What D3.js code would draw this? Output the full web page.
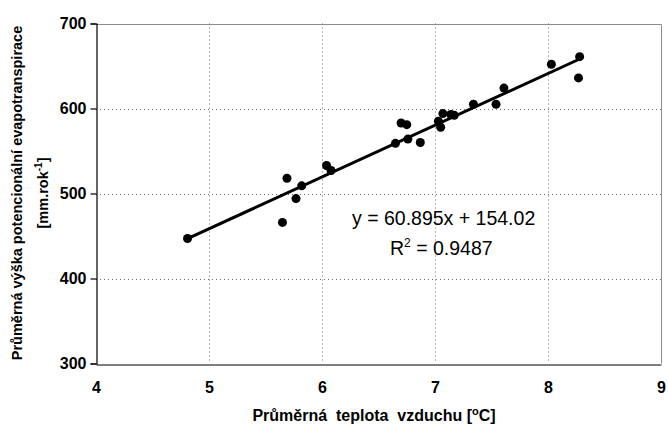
<!DOCTYPE html>
<html>
<head>
<meta charset="utf-8">
<script src="https://cdn.jsdelivr.net/npm/d3@7"></script>
<style>
  html, body { margin: 0; padding: 0; background: #fff; }
  svg { display: block; font-family: "Liberation Sans", Arial, sans-serif; }
</style>
</head>
<body>
<svg id="chart" width="668" height="429"></svg>
<script>
// Mean air temperature [°C] of each station
const temperature = [4.81, 5.65, 5.69, 5.77, 5.82, 6.04, 6.08, 6.65, 6.70, 6.75,
                     6.76, 6.87, 7.03, 7.05, 7.07, 7.14, 7.17, 7.34, 7.54, 7.61,
                     8.03, 8.28, 8.27];
// Mean potential evapotranspiration [mm/year] of each station
const evapotranspiration = [447, 466, 518, 494, 509, 533, 527, 559, 583, 581,
                            564, 560, 585, 578, 594, 593, 592, 605, 605, 624,
                            652, 661, 636];
// Linear trend y = a·x + b and its coefficient of determination
const trendSlope = 60.895;
const trendIntercept = 154.02;
const rSquared = 0.9487;
// Axis ticks
const xTicks = [4, 5, 6, 7, 8, 9];
const yTicks = [300, 400, 500, 600, 700];

const svg = d3.select("#chart");
const margin = { left: 96, right: 7, top: 23.5, bottom: 65.5 };
const W = 668, H = 429;

const x = d3.scaleLinear().domain([4, 9]).range([margin.left, W - margin.right]);
const y = d3.scaleLinear().domain([300, 700]).range([H - margin.bottom, margin.top]);

// dotted grid
const grid = svg.append("g");
grid.selectAll("line.v").data(xTicks.slice(1, -1)).join("line")
  .attr("x1", d => Math.round(x(d)) + 0.5).attr("x2", d => Math.round(x(d)) + 0.5)
  .attr("y1", y(700)).attr("y2", y(300))
  .attr("stroke", "#6e6e6e").attr("stroke-width", 1).attr("stroke-dasharray", "1,3");
grid.selectAll("line.h").data(yTicks.slice(1, -1)).join("line")
  .attr("y1", d => Math.round(y(d)) + 0.5).attr("y2", d => Math.round(y(d)) + 0.5)
  .attr("x1", x(4)).attr("x2", x(9))
  .attr("stroke", "#6e6e6e").attr("stroke-width", 1).attr("stroke-dasharray", "1,3");

// plot frame (top and right)
svg.append("path")
  .attr("d", `M${x(4)},${Math.round(y(700)) + 0.5}H${Math.round(x(9)) + 0.5}V${y(300)}`)
  .attr("fill", "none").attr("stroke", "#8c8c8c").attr("stroke-width", 1);

// axes
const tickFont = g => g.selectAll("text").attr("font-size", 16).attr("font-weight", "bold")
  .attr("fill", "#000").attr("font-family", "Liberation Sans, Arial, sans-serif");
const yAxis = d3.axisLeft(y).tickValues(yTicks).tickSize(6).tickPadding(4).tickFormat(d3.format("d"));
const gy = svg.append("g").attr("transform", `translate(${Math.round(x(4)) + 0.5},0)`).call(yAxis).call(tickFont);

const xAxis = d3.axisBottom(x).tickValues(xTicks).tickSize(0).tickPadding(17).tickFormat(d3.format("d"));
const gx = svg.append("g").attr("transform", `translate(0,${Math.round(y(300)) + 0.5})`).call(xAxis).call(tickFont);
[gx, gy].forEach(g => g.selectAll("path.domain, line").attr("stroke", "#000").attr("stroke-width", 1.2));

// trend line over the range of the data
const xMin = d3.min(temperature), xMax = d3.max(temperature);
svg.append("line")
  .attr("x1", x(xMin)).attr("y1", y(trendSlope * xMin + trendIntercept))
  .attr("x2", x(xMax)).attr("y2", y(trendSlope * xMax + trendIntercept))
  .attr("stroke", "#000").attr("stroke-width", 3);

// stations
svg.append("g").selectAll("circle").data(d3.zip(temperature, evapotranspiration)).join("circle")
  .attr("cx", d => x(d[0])).attr("cy", d => y(d[1])).attr("r", 4.5).attr("fill", "#000");

// regression equation
svg.append("text").attr("x", 352).attr("y", 225)
  .attr("font-size", 19.5).attr("fill", "#000")
  .text(`y = ${trendSlope}x + ${trendIntercept}`);
const r2 = svg.append("text").attr("x", 390).attr("y", 255)
  .attr("font-size", 19.5).attr("fill", "#000");
r2.append("tspan").text("R");
r2.append("tspan").attr("dy", -8).attr("font-size", 12).text("2");
r2.append("tspan").attr("dy", 8).text(` = ${rSquared}`);

// x axis title
const xt = svg.append("text").attr("x", 374).attr("y", 421).attr("text-anchor", "middle")
  .attr("font-size", 16).attr("font-weight", "bold").attr("fill", "#000")
  .attr("xml:space", "preserve");
xt.append("tspan").text("Průměrná  teplota  vzduchu [");
xt.append("tspan").attr("dy", -6).attr("font-size", 11).text("o");
xt.append("tspan").attr("dy", 6).text("C]");

// y axis title (two lines)
const yt = svg.append("g").attr("transform", "translate(0,193) rotate(-90)");
yt.append("text").attr("x", 0).attr("y", 22).attr("text-anchor", "middle")
  .attr("font-size", 14.5).attr("font-weight", "bold").attr("fill", "#000")
  .text("Průměrná výška potencionální evapotranspirace");
const yt2 = yt.append("text").attr("x", 0).attr("y", 48).attr("text-anchor", "middle")
  .attr("font-size", 14.5).attr("font-weight", "bold").attr("fill", "#000");
yt2.append("tspan").text("[mm.rok");
yt2.append("tspan").attr("dy", -6).attr("font-size", 10).text("-1");
yt2.append("tspan").attr("dy", 6).text("]");
</script>
</body>
</html>
